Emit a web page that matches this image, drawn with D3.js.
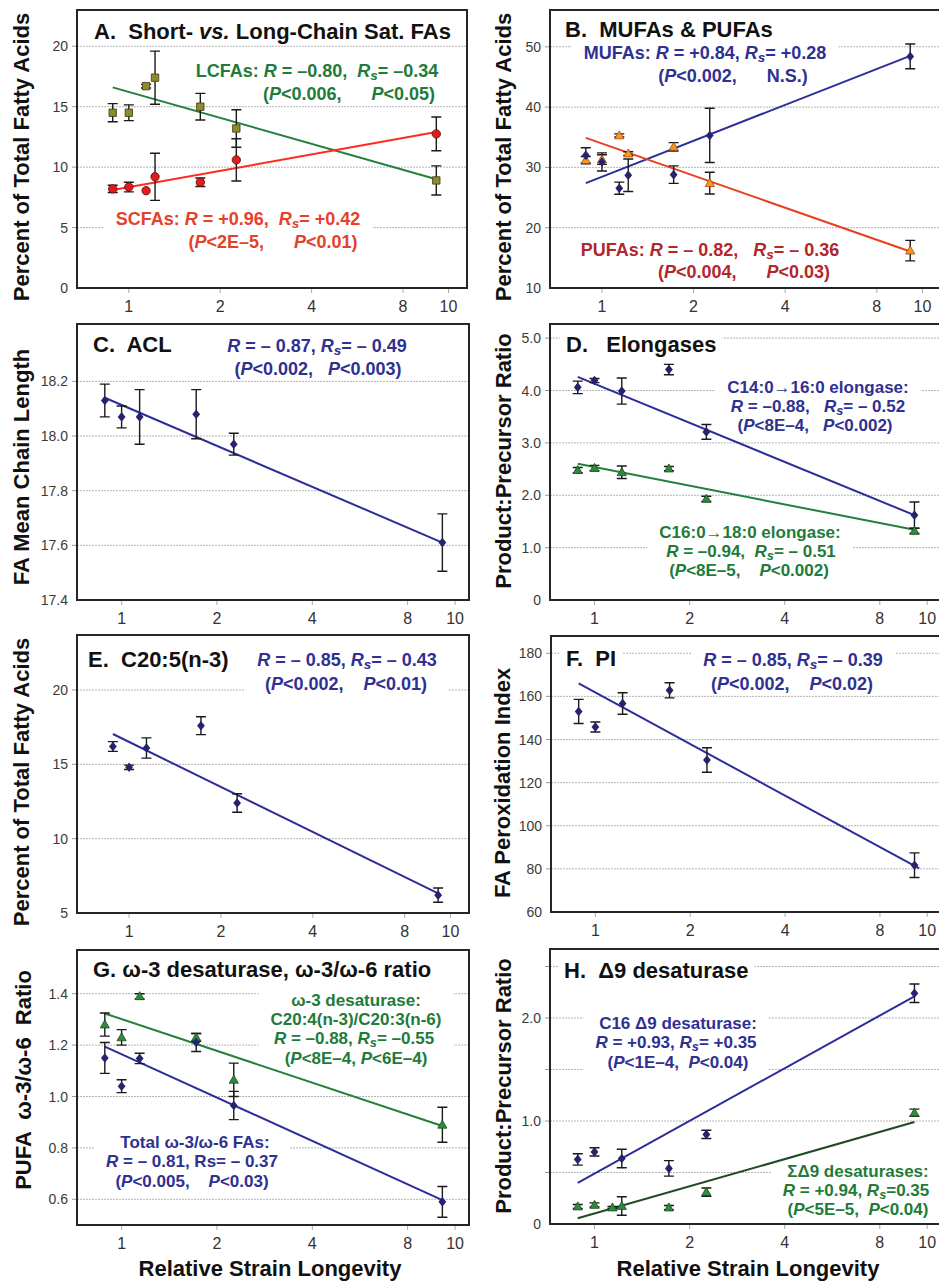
<!DOCTYPE html>
<html><head><meta charset="utf-8">
<script src="https://cdn.jsdelivr.net/npm/d3@7"></script>
<style>
body{margin:0;background:#fff;}
svg text{font-family:"Liberation Sans",Arial,Helvetica,sans-serif;white-space:pre;}
</style></head><body>
<svg id="chart" width="939" height="1281"></svg>
<script>
// ---------- shared x data ----------
const longevity   = [0.885, 1.0, 1.14, 1.22, 1.72, 2.26, 10.3];
const fitX        = [0.885, 10.3];
const xTickValues = [1, 2, 4, 8, 11.3];
const xTickLabels = ["1", "2", "4", "8", "10"];
const xDomainWide   = [0.675, 13.0];
const xDomainNarrow = [0.723, 12.5];

// ---------- Panel A ----------
const lcfaMean = [14.5, 14.5, 16.7, 17.4, 15.0, 13.2, 8.9];
const lcfaErr  = [0.75, 0.65, 0.15, 2.2, 1.1, 1.55, 1.2];
const scfaMean = [8.2, 8.35, 8.05, 9.2, 8.75, 10.6, 12.75];
const scfaErr  = [0.3, 0.4, 0, 1.95, 0.35, 1.75, 1.4];
const lcfaFit  = [16.6, 9.0];
const scfaFit  = [8.1, 12.9];
const yTicksA  = [0, 5, 10, 15, 20];
const yLabelsA = ["0", "5", "10", "15", "20"];

// ---------- Panel B ----------
const mufaMean = [32.0, 30.9, 26.55, 28.7, 28.8, 35.3, 48.4];
const mufaErr  = [1.25, 1.5, 1.0, 2.7, 1.45, 4.5, 2.05];
const pufaMean = [31.2, 31.3, 35.3, 32.3, 33.4, 27.4, 16.2];
const pufaErr  = [0.6, 0.8, 0.25, 0.3, 0.7, 1.8, 1.7];
const mufaFit  = [27.4, 48.5];
const pufaFit  = [34.9, 16.05];
const yTicksB  = [10, 20, 30, 40, 50];
const yLabelsB = ["10", "20", "30", "40", "50"];

// ---------- Panel C ----------
const aclMean = [18.13, 18.07, 18.07, null, 18.08, 17.97, 17.61];
const aclErr  = [0.06, 0.04, 0.10, null, 0.09, 0.04, 0.105];
const aclFit  = [18.14, 17.61];
const yTicksC  = [17.4, 17.6, 17.8, 18.0, 18.2];
const yLabelsC = ["17.4", "17.6", "17.8", "18.0", "18.2"];

// ---------- Panel D ----------
const elo14Mean = [4.06, 4.19, null, 3.99, 4.40, 3.21, 1.62];
const elo14Err  = [0.12, 0.04, null, 0.25, 0.10, 0.14, 0.25];
const elo16Mean = [2.48, 2.52, null, 2.44, 2.51, 1.93, 1.32];
const elo16Err  = [0.05, 0.05, null, 0.12, 0.04, 0.05, 0.05];
const elo14Fit  = [4.26, 1.62];
const elo16Fit  = [2.60, 1.34];
const yTicksD  = [0, 1, 2, 3, 4, 5];
const yLabelsD = ["0", "1.0", "2.0", "3.0", "4.0", "5.0"];

// ---------- Panel E ----------
const epaMean = [16.2, 14.8, 16.1, null, 17.6, 12.4, 6.2];
const epaErr  = [0.33, 0.15, 0.68, null, 0.6, 0.62, 0.48];
const epaFit  = [17.04, 6.32];
const yTicksE  = [5, 10, 15, 20];
const yLabelsE = ["5", "10", "15", "20"];

// ---------- Panel F ----------
const piMean = [153, 145.8, null, 156.7, 162.8, 130.5, 81.7];
const piErr  = [5.6, 2.3, null, 5.0, 3.5, 5.7, 5.7];
const piFitX = [0.885, 10.66];
const piFit  = [166, 80.2];
const yTicksF  = [60, 80, 100, 120, 140, 160, 180];
const yLabelsF = ["60", "80", "100", "120", "140", "160", "180"];

// ---------- Panel G ----------
const w3DesatMean = [1.28, 1.23, 1.39, null, 1.23, 1.065, 0.89];
const w3DesatErr  = [0.045, 0.03, 0.01, null, 0.015, 0.065, 0.068];
const w3w6Mean    = [1.15, 1.04, 1.148, null, 1.21, 0.965, 0.59];
const w3w6Err     = [0.06, 0.025, 0.02, null, 0.035, 0.055, 0.06];
const w3DesatFit  = [1.323, 0.885];
const w3w6Fit     = [1.194, 0.597];
const yTicksG  = [0.6, 0.8, 1.0, 1.2, 1.4];
const yLabelsG = ["0.6", "0.8", "1.0", "1.2", "1.4"];

// ---------- Panel H ----------
const c16d9Mean = [0.627, 0.70, null, 0.636, 0.54, 0.87, 2.24];
const c16d9Err  = [0.055, 0.04, null, 0.09, 0.075, 0.04, 0.09];
const sumD9Mean = [0.17, 0.185, 0.16, 0.175, 0.16, 0.31, 1.08];
const sumD9Err  = [0.02, 0.02, 0.01, 0.09, 0.02, 0.04, 0.035];
const c16d9Fit  = [0.40, 2.21];
const sumD9Fit  = [0.055, 0.99];
const yTicksH  = [0, 1, 2];
const yLabelsH = ["0", "1.0", "2.0"];
const yGridH   = [0.5, 1, 1.5, 2, 2.5];

// ---------- styling ----------
const COL = {
  navy: "#2e3192", navyLine: "#2d2d9a", navyMark: "#24246c",
  green: "#1e7b3a", greenLine: "#23803c", greenMark: "#2f8a3e", darkGreenLine: "#1c4a22",
  scfaText: "#e6402a", redLine: "#ff2a1f", redMark: "#e31b1b",
  pufaText: "#b3272c", orangeLine: "#e8401c", orangeMark: "#f39a1f",
  olive: "#8c8c2c"
};

const panels = [
  { x0: 77, x1: 467, y0: 10, y1: 288, xd: xDomainWide, yd: [0, 23],
    yTicks: yTicksA, yLabels: yLabelsA, yGrid: [5, 10, 15, 20],
    yTitle: "Percent of Total Fatty Acids", yTitlePos: [29, 157],
    series: [
      { y: lcfaMean, e: lcfaErr, shape: "square", fill: COL.olive, stroke: "#3a3a10" },
      { y: scfaMean, e: scfaErr, shape: "circle", fill: COL.redMark, stroke: "#5a0a0a" }],
    fits: [{ x: fitX, y: lcfaFit, color: COL.greenLine }, { x: fitX, y: scfaFit, color: COL.redLine }],
    title: { text: "A.  Short- *vs.* Long-Chain Sat. FAs", x: 94, y: 39, box: false },
    notes: [
      { color: COL.green, lines: [["LCFAs: *R* = –0.80,  *R*_s_= –0.34", 317, 77], ["(*P*<0.006,      *P*<0.05)", 349, 100]] },
      { color: COL.scfaText, lines: [["SCFAs: *R* = +0.96,  *R*_s_= +0.42", 238, 225], ["(*P*<2E–5,      *P*<0.01)", 273, 248]] }]
  },
  { x0: 550, x1: 941, y0: 10, y1: 288, xd: xDomainWide, yd: [10, 56.1],
    yTicks: yTicksB, yLabels: yLabelsB, yGrid: [20, 30, 40, 50],
    yTitle: "Percent of Total Fatty Acids", yTitlePos: [511, 157],
    series: [
      { y: pufaMean, e: pufaErr, shape: "triangle", fill: COL.orangeMark, stroke: "#a8400c" },
      { y: mufaMean, e: mufaErr, shape: "diamond", fill: COL.navyMark, stroke: "none" }],
    fits: [{ x: fitX, y: mufaFit, color: COL.navyLine }, { x: fitX, y: pufaFit, color: COL.orangeLine }],
    title: { text: "B.  MUFAs & PUFAs", x: 565, y: 37, box: false },
    notes: [
      { color: COL.navy, lines: [["MUFAs: *R* = +0.84, *R*_s_= +0.28", 705, 59], ["(*P*<0.002,      N.S.)", 733, 82]] },
      { color: COL.pufaText, lines: [["PUFAs: *R* = – 0.82,   *R*_s_= – 0.36", 710, 256], ["(*P*<0.004,      *P*<0.03)", 744, 278]] }]
  },
  { x0: 77, x1: 469, y0: 324, y1: 600, xd: xDomainNarrow, yd: [17.4, 18.41],
    yTicks: yTicksC, yLabels: yLabelsC, yGrid: [17.6, 17.8, 18.0, 18.2],
    yTitle: "FA Mean Chain Length", yTitlePos: [29, 467],
    series: [{ y: aclMean, e: aclErr, shape: "diamond", fill: COL.navyMark, stroke: "none" }],
    fits: [{ x: fitX, y: aclFit, color: COL.navyLine }],
    title: { text: "C.  ACL", x: 93, y: 352, box: true },
    notes: [
      { color: COL.navy, lines: [["*R* = – 0.87, *R*_s_= – 0.49", 317, 352], ["(*P*<0.002,   *P*<0.003)", 318, 375]] }]
  },
  { x0: 550, x1: 941, y0: 324, y1: 600, xd: xDomainNarrow, yd: [0, 5.27],
    yTicks: yTicksD, yLabels: yLabelsD, yGrid: [1, 2, 3, 4, 5],
    yTitle: "Product:Precursor Ratio", yTitlePos: [511, 461],
    series: [
      { y: elo16Mean, e: elo16Err, shape: "triangle", fill: COL.greenMark, stroke: "#1a4a20" },
      { y: elo14Mean, e: elo14Err, shape: "diamond", fill: COL.navyMark, stroke: "none" }],
    fits: [{ x: fitX, y: elo14Fit, color: COL.navyLine }, { x: fitX, y: elo16Fit, color: COL.greenLine }],
    title: { text: "D.   Elongases", x: 566, y: 352, box: true },
    notes: [
      { color: COL.navy, lines: [["C14:0→16:0 elongase:", 818, 393], ["*R* = –0.88,   *R*_s_= – 0.52", 818, 412], ["(*P*<8E–4,   *P*<0.002)", 815, 431]] },
      { color: COL.green, lines: [["C16:0→18:0 elongase:", 750, 538], ["*R* = –0.94,  *R*_s_= – 0.51", 751, 557], ["(*P*<8E–5,    *P*<0.002)", 749, 576]] }]
  },
  { x0: 77, x1: 469, y0: 635, y1: 913, xd: xDomainWide, yd: [5, 23.7],
    yTicks: yTicksE, yLabels: yLabelsE, yGrid: [10, 15, 20],
    yTitle: "Percent of Total Fatty Acids", yTitlePos: [29, 782],
    series: [{ y: epaMean, e: epaErr, shape: "diamond", fill: COL.navyMark, stroke: "none" }],
    fits: [{ x: fitX, y: epaFit, color: COL.navyLine }],
    title: { text: "E.  C20:5(n-3)", x: 88, y: 667, box: true },
    notes: [
      { color: COL.navy, lines: [["*R* = – 0.85, *R*_s_= – 0.43", 347, 666], ["(*P*<0.002,    *P*<0.01)", 346, 690]] }]
  },
  { x0: 551, x1: 941, y0: 636, y1: 912, xd: xDomainNarrow, yd: [60, 188],
    yTicks: yTicksF, yLabels: yLabelsF, yGrid: [80, 100, 120, 140, 160, 180],
    yTitle: "FA Peroxidation Index", yTitlePos: [510, 783],
    series: [{ y: piMean, e: piErr, shape: "diamond", fill: COL.navyMark, stroke: "none" }],
    fits: [{ x: piFitX, y: piFit, color: COL.navyLine }],
    title: { text: "F.  PI", x: 566, y: 666, box: true },
    notes: [
      { color: COL.navy, lines: [["*R* = – 0.85, *R*_s_= – 0.39", 793, 666], ["(*P*<0.002,    *P*<0.02)", 792, 690]] }]
  },
  { x0: 77, x1: 469, y0: 950, y1: 1225, xd: xDomainNarrow, yd: [0.5, 1.57],
    yTicks: yTicksG, yLabels: yLabelsG, yGrid: [0.6, 0.8, 1.0, 1.2, 1.4],
    yTitle: "PUFA  ω-3/ω-6  Ratio", yTitlePos: [31, 1080],
    series: [
      { y: w3DesatMean, e: w3DesatErr, shape: "triangle", fill: COL.greenMark, stroke: "#1a4a20" },
      { y: w3w6Mean, e: w3w6Err, shape: "diamond", fill: COL.navyMark, stroke: "none" }],
    fits: [{ x: fitX, y: w3DesatFit, color: COL.greenLine }, { x: fitX, y: w3w6Fit, color: COL.navyLine }],
    title: { text: "G. ω-3 desaturase, ω-3/ω-6 ratio", x: 93, y: 977, box: true },
    xTitle: { text: "Relative Strain Longevity", x: 270, y: 1276 },
    notes: [
      { color: COL.green, lines: [["ω-3 desaturase:", 356, 1006], ["C20:4(n-3)/C20:3(n-6)", 356, 1025], ["*R* = –0.88, *R*_s_= –0.55", 354, 1044], ["(*P*<8E–4, *P*<6E–4)", 356, 1064]] },
      { color: COL.navy, lines: [["Total ω-3/ω-6 FAs:", 195, 1148], ["*R* = – 0.81, Rs= – 0.37", 192, 1167], ["(*P*<0.005,    *P*<0.03)", 192, 1187]] }]
  },
  { x0: 550, x1: 941, y0: 949, y1: 1224, xd: xDomainNarrow, yd: [0, 2.67],
    yTicks: yTicksH, yLabels: yLabelsH, yGrid: yGridH,
    yTitle: "Product:Precursor Ratio", yTitlePos: [511, 1086],
    series: [
      { y: sumD9Mean, e: sumD9Err, shape: "triangle", fill: COL.greenMark, stroke: "#1a4a20" },
      { y: c16d9Mean, e: c16d9Err, shape: "diamond", fill: COL.navyMark, stroke: "none" }],
    fits: [{ x: fitX, y: c16d9Fit, color: COL.navyLine }, { x: fitX, y: sumD9Fit, color: COL.darkGreenLine }],
    title: { text: "H.  Δ9 desaturase", x: 564, y: 978, box: true },
    xTitle: { text: "Relative Strain Longevity", x: 748, y: 1276 },
    notes: [
      { color: COL.navy, lines: [["C16 Δ9 desaturase:", 678, 1029], ["*R* = +0.93, *R*_s_= +0.35", 676, 1048], ["(*P*<1E–4,  *P*<0.04)", 678, 1068]] },
      { color: COL.green, lines: [["ΣΔ9 desaturases:", 858, 1177], ["*R* = +0.94, *R*_s_=0.35", 856, 1196], ["(*P*<5E–5,  *P*<0.04)", 858, 1215]] }]
  }
];

// ---------- helpers ----------
const svg = d3.select("#chart");
svg.append("rect").attr("width", 939).attr("height", 1281).attr("fill", "#fff");

function rich(textSel, str) {
  const parts = str.split(/(\*[^*]*\*|_[^_]*_)/).filter(s => s.length);
  let shift = 0;
  parts.forEach(p => {
    const t = textSel.append("tspan").attr("xml:space", "preserve");
    if (p[0] === "_") {
      t.text(p.slice(1, -1)).attr("font-style", "italic").attr("font-size", "0.75em").attr("dy", 3);
      shift = 3;
      return;
    }
    if (p[0] === "*") t.text(p.slice(1, -1)).attr("font-style", "italic");
    else t.text(p);
    if (shift) { t.attr("dy", -shift); shift = 0; }
  });
}

function shapePath(shape) {
  if (shape === "diamond") return "M0,-4.8L3.9,0L0,4.8L-3.9,0Z";
  if (shape === "square") return "M-3.7,-3.7H3.7V3.7H-3.7Z";
  if (shape === "triangle") return "M0,-4.6L4.6,3.4L-4.6,3.4Z";
  return null;
}

panels.forEach(p => {
  const x = d3.scaleLog().domain(p.xd).range([p.x0, p.x1]);
  const y = d3.scaleLinear().domain(p.yd).range([p.y1, p.y0]);
  const g = svg.append("g");
  const gGrid = g.append("g"), gBox = g.append("g"), gFit = g.append("g"),
        gErr = g.append("g"), gMark = g.append("g"), gFrame = g.append("g"), gText = g.append("g");

  gGrid.selectAll("line.grid").data(p.yGrid).join("line")
    .attr("x1", p.x0).attr("x2", p.x1).attr("y1", d => y(d)).attr("y2", d => y(d))
    .attr("stroke", "#b5b5b5").attr("stroke-width", 1).attr("stroke-dasharray", "2,1");
  gGrid.selectAll("line.yt").data(p.yGrid).join("line")
    .attr("x1", p.x0 - 5).attr("x2", p.x0).attr("y1", d => y(d)).attr("y2", d => y(d))
    .attr("stroke", "#999").attr("stroke-width", 1);
  gGrid.selectAll("line.xt").data(xTickValues).join("line")
    .attr("x1", d => x(d)).attr("x2", d => x(d)).attr("y1", p.y1).attr("y2", p.y1 + 5)
    .attr("stroke", "#aaa").attr("stroke-width", 1);

  p.fits.forEach(f => {
    gFit.append("path")
      .attr("d", d3.line().x(d => x(d[0])).y(d => y(d[1]))(d3.zip(f.x, f.y)))
      .attr("fill", "none").attr("stroke", f.color).attr("stroke-width", 2);
  });

  p.series.forEach(s => {
    const pts = longevity.map((lx, i) => ({ lx, v: s.y[i], e: s.e[i] })).filter(d => d.v != null);
    pts.filter(d => d.e > 0).forEach(d => {
      const xx = x(d.lx), ya = y(d.v + d.e), yb = y(d.v - d.e);
      const path = `M${xx},${ya}V${yb}M${xx - 5},${ya}H${xx + 5}M${xx - 5},${yb}H${xx + 5}`;
      gErr.append("path").attr("d", path).attr("stroke", "#1a1a1a").attr("stroke-width", 1.4).attr("fill", "none");
    });
    if (s.shape === "circle") {
      gMark.selectAll(null).data(pts).join("circle")
        .attr("cx", d => x(d.lx)).attr("cy", d => y(d.v)).attr("r", 4.2)
        .attr("fill", s.fill).attr("stroke", s.stroke).attr("stroke-width", 0.8);
    } else {
      gMark.selectAll(null).data(pts).join("path")
        .attr("d", shapePath(s.shape))
        .attr("transform", d => `translate(${x(d.lx)},${y(d.v)})`)
        .attr("fill", s.fill).attr("stroke", s.stroke).attr("stroke-width", 0.8);
    }
  });

  gFrame.append("rect").attr("x", p.x0).attr("y", p.y0).attr("width", p.x1 - p.x0).attr("height", p.y1 - p.y0)
    .attr("fill", "none").attr("stroke", "#262626").attr("stroke-width", 2);

  gText.selectAll("text.yl").data(p.yTicks).join("text")
    .attr("x", p.x0 - 9).attr("y", d => y(d)).attr("dy", "0.36em")
    .attr("text-anchor", "end").attr("font-size", 14).attr("fill", "#3a3a3a")
    .text((d, i) => p.yLabels[i]);
  gText.selectAll("text.xl").data(xTickValues).join("text")
    .attr("x", d => x(d)).attr("y", p.y1 + 24)
    .attr("text-anchor", "middle").attr("font-size", 16).attr("fill", "#333")
    .text((d, i) => xTickLabels[i]);

  gText.append("text")
    .attr("transform", `translate(${p.yTitlePos[0]},${p.yTitlePos[1]}) rotate(-90)`)
    .attr("text-anchor", "middle").attr("font-size", 22).attr("font-weight", "bold").attr("fill", "#111")
    .attr("xml:space", "preserve").text(p.yTitle);
  if (p.xTitle) {
    gText.append("text").attr("x", p.xTitle.x).attr("y", p.xTitle.y)
      .attr("text-anchor", "middle").attr("font-size", 22).attr("font-weight", "bold").attr("fill", "#111")
      .text(p.xTitle.text);
  }

  const tg = gText.append("g");
  const tt = tg.append("text").attr("x", p.title.x).attr("y", p.title.y)
    .attr("font-size", 22).attr("font-weight", "bold").attr("fill", "#111").attr("xml:space", "preserve");
  rich(tt, p.title.text);
  if (p.title.box) {
    const b = tg.node().getBBox();
    gBox.append("rect").attr("x", b.x - 6).attr("y", b.y).attr("width", b.width + 12).attr("height", b.height)
      .attr("fill", "#fff");
  }

  p.notes.forEach(n => {
    const ng = gText.append("g");
    const fs = n.lines.length >= 3 ? 17 : 18;
    n.lines.forEach(l => {
      const t = ng.append("text").attr("x", l[1]).attr("y", l[2]).attr("text-anchor", "middle")
        .attr("font-size", fs).attr("font-weight", "bold").attr("fill", n.color).attr("xml:space", "preserve");
      rich(t, l[0]);
    });
    const b = ng.node().getBBox();
    gBox.append("rect").attr("x", b.x - 12).attr("y", b.y + 1).attr("width", b.width + 24).attr("height", b.height - 1)
      .attr("fill", "#fff");
  });
});
</script>
</body></html>
